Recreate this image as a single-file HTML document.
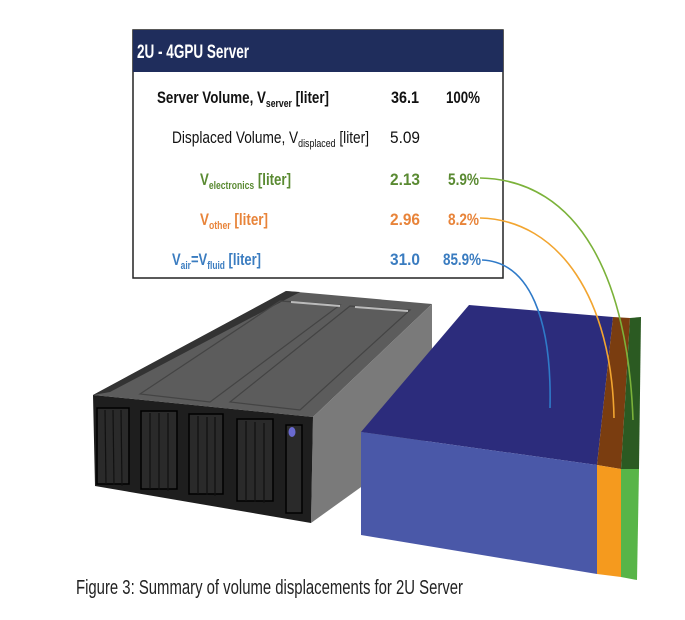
<!DOCTYPE html>
<html><head><meta charset="utf-8"><style>
html,body{margin:0;padding:0;background:#fff;}
svg{display:block;}
text{font-family:"Liberation Sans Narrow","Liberation Sans",sans-serif;}
</style></head><body>
<svg width="685" height="620" viewBox="0 0 685 620" xmlns="http://www.w3.org/2000/svg">
<!-- Table -->
<rect x="133" y="30" width="370" height="248" fill="#fff" stroke="#222" stroke-width="1.5"/>
<rect x="133" y="30" width="370" height="42" fill="#1f2d5c"/>
<text x="137" y="58" font-size="19" font-weight="bold" fill="#fff" textLength="112" lengthAdjust="spacingAndGlyphs">2U - 4GPU Server</text>
<g font-size="17">
<text x="157" y="103" font-weight="bold" fill="#111" textLength="172" lengthAdjust="spacingAndGlyphs">Server Volume, V<tspan font-size="11" dy="4">server</tspan><tspan dy="-4"> [liter]</tspan></text>
<text x="391" y="103" font-weight="bold" fill="#111" textLength="28" lengthAdjust="spacingAndGlyphs">36.1</text>
<text x="446" y="103" font-weight="bold" fill="#111" textLength="34" lengthAdjust="spacingAndGlyphs">100%</text>
<text x="172" y="143" fill="#111" textLength="197" lengthAdjust="spacingAndGlyphs">Displaced Volume, V<tspan font-size="11" dy="4">displaced</tspan><tspan dy="-4"> [liter]</tspan></text>
<text x="390" y="143" fill="#111" textLength="30" lengthAdjust="spacingAndGlyphs">5.09</text>
<text x="200" y="185" font-weight="bold" fill="#5a8a32" textLength="91" lengthAdjust="spacingAndGlyphs">V<tspan font-size="11" dy="4">electronics</tspan><tspan dy="-4"> [liter]</tspan></text>
<text x="390" y="185" font-weight="bold" fill="#5a8a32" textLength="30" lengthAdjust="spacingAndGlyphs">2.13</text>
<text x="448" y="185" font-weight="bold" fill="#5a8a32" textLength="31" lengthAdjust="spacingAndGlyphs">5.9%</text>
<text x="200" y="225" font-weight="bold" fill="#e8843a" textLength="68" lengthAdjust="spacingAndGlyphs">V<tspan font-size="11" dy="4">other</tspan><tspan dy="-4"> [liter]</tspan></text>
<text x="390" y="225" font-weight="bold" fill="#e8843a" textLength="30" lengthAdjust="spacingAndGlyphs">2.96</text>
<text x="448" y="225" font-weight="bold" fill="#e8843a" textLength="31" lengthAdjust="spacingAndGlyphs">8.2%</text>
<text x="172" y="265" font-weight="bold" fill="#3a7cc0" textLength="89" lengthAdjust="spacingAndGlyphs">V<tspan font-size="11" dy="4">air</tspan><tspan dy="-4">=V</tspan><tspan font-size="11" dy="4">fluid</tspan><tspan dy="-4"> [liter]</tspan></text>
<text x="390" y="265" font-weight="bold" fill="#3a7cc0" textLength="30" lengthAdjust="spacingAndGlyphs">31.0</text>
<text x="443" y="265" font-weight="bold" fill="#3a7cc0" textLength="38" lengthAdjust="spacingAndGlyphs">85.9%</text>
</g>
<!-- Server -->
<polygon points="286,291 432,304 313,417 93,395" fill="#5c5c5c"/>
<polygon points="432,304 432,436 311,523 313,417" fill="#7a7a7a"/>
<polygon points="93,395 313,417 311,523 95,486" fill="#1e1e1e"/>
<polygon points="93,395 286,291 300,292 110,392" fill="#333"/>
<polygon points="140,394 280,301 340,305 210,402" fill="none" stroke="#444" stroke-width="1.2"/>
<polygon points="230,402 350,306 410,310 300,410" fill="none" stroke="#444" stroke-width="1.2"/>
<line x1="291" y1="302" x2="340" y2="306" stroke="#bbb" stroke-width="2"/>
<line x1="355" y1="307" x2="408" y2="311" stroke="#bbb" stroke-width="2"/>
<g stroke="#000" stroke-width="1.5" fill="#2a2a2a">
<rect x="97" y="408" width="32" height="76"/>
<rect x="141" y="411" width="36" height="78"/>
<rect x="189" y="414" width="34" height="80"/>
<rect x="237" y="419" width="36" height="82"/>
<rect x="286" y="425" width="16" height="88"/>
</g>
<g stroke="#111" stroke-width="1.2">
<line x1="105" y1="410" x2="106" y2="484"/><line x1="113" y1="410" x2="114" y2="485"/><line x1="121" y1="410" x2="122" y2="486"/>
<line x1="150" y1="413" x2="150" y2="489"/><line x1="159" y1="413" x2="159" y2="490"/><line x1="168" y1="413" x2="168" y2="491"/>
<line x1="198" y1="416" x2="198" y2="494"/><line x1="207" y1="417" x2="207" y2="495"/><line x1="215" y1="417" x2="215" y2="496"/>
<line x1="246" y1="421" x2="246" y2="501"/><line x1="255" y1="422" x2="255" y2="502"/><line x1="264" y1="423" x2="264" y2="503"/>
</g>
<ellipse cx="292" cy="432" rx="3.5" ry="5" fill="#6a6ad0"/>
<!-- Volume box -->
<polygon points="469,305 613,317 597,465 361,432" fill="#2c2c7c"/>
<polygon points="613,317 630,318 621,469 597,465" fill="#7a3d10"/>
<polygon points="630,318 641,317 639,469 621,469" fill="#2b5a22"/>
<polygon points="361,432 597,465 597,574 361,535" fill="#4a58a8"/>
<polygon points="597,465 621,469 621,577 597,574" fill="#f59a1e"/>
<polygon points="621,469 639,469 637,580 621,577" fill="#58b548"/>
<!-- Curves -->
<path d="M480,178 C580,180 628,280 633,420" fill="none" stroke="#7bb23a" stroke-width="1.6"/>
<path d="M480,218 C560,220 612,300 614,418" fill="none" stroke="#f2a530" stroke-width="1.6"/>
<path d="M482,260 C530,262 552,320 550,408" fill="none" stroke="#2f7ac8" stroke-width="1.6"/>
<!-- Caption -->
<text x="76" y="594" font-size="20" fill="#222" textLength="387" lengthAdjust="spacingAndGlyphs">Figure 3: Summary of volume displacements for 2U Server</text>
</svg>
</body></html>
